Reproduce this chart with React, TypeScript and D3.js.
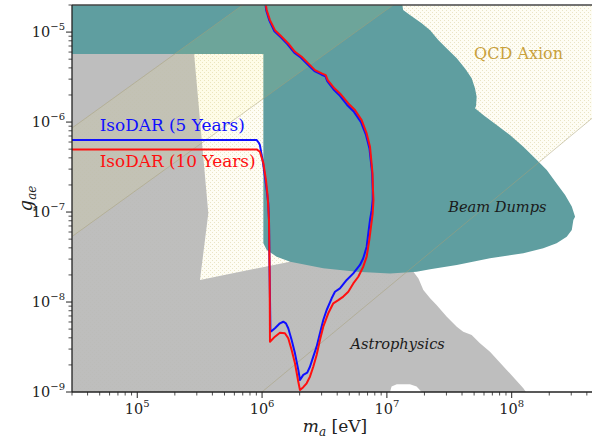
import React from 'react';
import * as d3 from 'd3';

// axis ranges
const massDomain = [3e4, 4.4e8];
const couplingDomain = [1e-9, 2e-5];

const xTickExponents = [5, 6, 7, 8];
const yTickExponents = [-9, -8, -7, -6, -5];

// IsoDAR sensitivity curves [m_a (eV), g_ae]
const isodar5Years = [
  [2.4e4, 6.31e-7], [9.06e5, 6.31e-7], [9.44e5, 5.85e-7], [9.61e5, 5.55e-7], [1.01e6, 3.78e-7],
  [1.055e6, 2.45e-7], [1.088e6, 1.76e-7], [1.121e6, 1.26e-7], [1.136e6, 8.15e-8], [1.15e6, 2.0e-8],
  [1.167e6, 4.68e-9], [1.193e6, 4.75e-9], [1.268e6, 5.11e-9], [1.39e6, 5.8e-9], [1.479e6, 6.04e-9],
  [1.553e6, 5.8e-9], [1.621e6, 5.11e-9], [1.726e6, 3.78e-9], [1.835e6, 2.69e-9], [1.951e6, 1.76e-9],
  [2.013e6, 1.36e-9], [2.139e6, 1.55e-9], [2.301e6, 1.64e-9], [2.419e6, 1.91e-9], [2.572e6, 2.47e-9],
  [2.736e6, 3.19e-9], [2.909e6, 4.49e-9], [3.093e6, 6.31e-9], [3.293e6, 8.15e-9], [3.611e6, 1.1e-8],
  [3.838e6, 1.3e-8], [4.207e6, 1.42e-8], [4.766e6, 1.76e-8], [5.383e6, 2.08e-8], [6.086e6, 2.58e-8],
  [6.467e6, 3.06e-8], [6.886e6, 4.12e-8], [7.096e6, 5.8e-8], [7.323e6, 8.15e-8], [7.556e6, 1.05e-7],
  [7.696e6, 1.36e-7], [7.696e6, 1.76e-7], [7.62e6, 2.71e-7], [7.25e6, 5.1e-7], [6.8e6, 7.2e-7],
  [6.2e6, 1.0e-6], [5.45e6, 1.3e-6], [4.8e6, 1.55e-6], [4.15e6, 2.0e-6], [3.74e6, 2.3e-6],
  [3.33e6, 2.85e-6], [3.22e6, 3.22e-6], [2.98e6, 3.38e-6], [2.63e6, 3.68e-6], [2.32e6, 4.37e-6],
  [2.05e6, 5.18e-6], [1.81e6, 5.9e-6], [1.6e6, 7.3e-6], [1.42e6, 8.7e-6], [1.25e6, 1.03e-5],
  [1.145e6, 1.34e-5], [1.08e6, 1.74e-5], [1.066e6, 2.0e-5], [1.057e6, 2.58e-5],
];

const isodar10Years = [
  [2.4e4, 4.97e-7], [9.06e5, 4.97e-7], [9.61e5, 4.68e-7], [1.024e6, 3.5e-7], [1.074e6, 2.27e-7],
  [1.109e6, 1.48e-7], [1.136e6, 8.15e-8], [1.15e6, 2.0e-8], [1.157e6, 3.62e-9], [1.268e6, 4.12e-9],
  [1.39e6, 4.56e-9], [1.524e6, 4.49e-9], [1.621e6, 3.95e-9], [1.726e6, 2.93e-9], [1.835e6, 2.08e-9],
  [1.951e6, 1.3e-9], [2.013e6, 1.05e-9], [2.139e6, 1.13e-9], [2.276e6, 1.25e-9], [2.419e6, 1.48e-9],
  [2.572e6, 1.91e-9], [2.736e6, 2.58e-9], [2.909e6, 3.78e-9], [3.093e6, 5.32e-9], [3.39e6, 7.49e-9],
  [3.722e6, 9.68e-9], [4.08e6, 1.05e-8], [4.477e6, 1.15e-8], [4.907e6, 1.3e-8], [5.383e6, 1.61e-8],
  [5.9e6, 1.91e-8], [6.467e6, 2.47e-8], [6.886e6, 3.19e-8], [7.228e6, 4.89e-8], [7.46e6, 6.87e-8],
  [7.696e6, 9.68e-8], [7.809e6, 1.36e-7], [7.741e6, 1.76e-7], [7.67e6, 2.71e-7], [7.323e6, 5.32e-7],
  [6.886e6, 7.48e-7], [6.277e6, 1.05e-6], [5.549e6, 1.36e-6], [4.907e6, 1.61e-6], [4.207e6, 2.08e-6],
  [3.795e6, 2.37e-6], [3.358e6, 2.93e-6], [3.237e6, 3.33e-6], [3.004e6, 3.48e-6], [2.655e6, 3.78e-6],
  [2.345e6, 4.49e-6], [2.075e6, 5.32e-6], [1.835e6, 6.04e-6], [1.621e6, 7.48e-6], [1.436e6, 8.87e-6],
  [1.268e6, 1.05e-5], [1.157e6, 1.36e-5], [1.088e6, 1.76e-5], [1.074e6, 2.0e-5], [1.064e6, 2.58e-5],
];

// beam dump exclusion
const beamDumps = [
  [2.4e4, 2.93e-5], [1.27e7, 2.93e-5], [1.35e7, 1.76e-5], [1.53e7, 1.55e-5], [1.9e7, 1.25e-5],
  [2.22e7, 1.05e-5], [2.58e7, 8.15e-6], [3.02e7, 6.59e-6], [3.63e7, 5.11e-6], [4.23e7, 3.95e-6],
  [4.78e7, 3.06e-6], [5.08e7, 2.37e-6], [5.24e7, 1.91e-6], [5.18e7, 1.51e-6], [5.08e7, 1.42e-6],
  [5.92e7, 1.2e-6], [7.58e7, 9.27e-7], [9.68e7, 7.17e-7], [1.24e8, 5.32e-7], [1.59e8, 3.78e-7],
  [1.91e8, 2.93e-7], [2.29e8, 2.08e-7], [2.68e8, 1.55e-7], [3.03e8, 1.15e-7], [3.22e8, 8.87e-8],
  [3.12e8, 8.15e-8], [3.03e8, 6.31e-8], [2.76e8, 5.32e-8], [2.29e8, 4.49e-8], [1.79e8, 3.95e-8],
  [1.24e8, 3.48e-8], [6.7e7, 3.06e-8], [3.63e7, 2.58e-8], [2.22e7, 2.31e-8], [1.73e7, 2.17e-8],
  [1.06e7, 2.08e-8], [5.73e6, 2.17e-8], [3.09e6, 2.37e-8], [1.68e6, 2.81e-8], [1.31e6, 3.19e-8],
  [1.09e6, 3.78e-8], [1.024e6, 4.49e-8], [1.024e6, 5.7e-6], [2.4e4, 5.7e-6],
];

// astrophysical exclusion and its two openings
const astrophysics = [
  [2.4e4, 5.85e-6], [1.2e7, 5.85e-6], [1.2e7, 3.0e-8], [1.63e7, 2.17e-8], [1.79e7, 1.83e-8],
  [1.96e7, 1.36e-8], [2.22e7, 1.1e-8], [2.5e7, 9.27e-9], [3.02e7, 6.87e-9], [3.63e7, 5.32e-9],
  [4.09e7, 4.68e-9], [4.78e7, 4.3e-9], [5.57e7, 3.48e-9], [6.7e7, 2.81e-9], [9.12e7, 1.76e-9],
  [1.24e8, 1.1e-9], [1.3e8, 1.0e-9], [1.35e8, 8e-10], [2.4e4, 8e-10],
];
const astroGapWindow = [
  [2.85e5, 5.85e-6], [1.157e6, 5.85e-6], [1.157e6, 4.3e-8], [1.675e6, 2.81e-8], [3.18e5, 1.76e-8],
  [3.71e5, 9.68e-8],
];
const astroGapBump = [
  [1.04e7, 9e-10], [1.06e7, 1.0e-9], [1.09e7, 1.15e-9], [1.2e7, 1.22e-9], [1.53e7, 1.22e-9],
  [1.73e7, 1.15e-9], [1.9e7, 1.0e-9], [1.93e7, 9e-10],
];

// QCD axion band edges
const qcdUpper = [[1e4, 2.86e-7], [1e7, 2.86e-4]];
const qcdMid = [[1e4, 1.78e-8], [1e9, 1.78e-3]];
const qcdLower = [[1e5, 7.1e-11], [1e10, 4.0e-5]];

const W = 592;
const H = 444;
const left = 72;
const right = 592;
const top = 5;
const bottom = 392;
const ink = '#222';
const serif = 'DejaVu Serif';

export default function App() {
  const x = d3.scaleLog().domain(massDomain).range([left, right]);
  const y = d3.scaleLog().domain(couplingDomain).range([bottom, top]);
  const line = d3.line<number[]>().x(d => x(d[0])).y(d => y(d[1]));
  const poly = (pts: number[][]) => line(pts) + 'Z';

  const bandFull = [...qcdUpper, [1e10, 2.86e-4], ...qcdLower.slice().reverse(), [1e4, 7.1e-11]];
  const bandInner = [...qcdUpper, ...qcdMid.slice().reverse()];

  const xMinor = x.ticks().filter(v => !xTickExponents.some(e => Math.abs(v - 10 ** e) < 1e-6 * v));
  const yMinor = y.ticks().filter(v => !yTickExponents.some(e => Math.abs(v - 10 ** e) < 1e-6 * v));

  return (
    <div style={{ position: 'fixed', left: 0, top: 0 }}>
      <svg width={W} height={H} style={{ display: 'block', background: '#fff' }} fontFamily={serif}>
        <defs>
          <clipPath id="plotClip">
            <rect x={left} y={top} width={right - left} height={bottom - top} />
          </clipPath>
          <pattern id="dots" width={4} height={4} patternUnits="userSpaceOnUse">
            <rect x={0} y={0} width={1} height={1} fill="#ddd3a5" />
            <rect x={2} y={2} width={1} height={1} fill="#ddd3a5" />
          </pattern>
        </defs>

        <g clipPath="url(#plotClip)">
          <path d={poly(bandFull)} fill="#fefdf4" />
          <path d={poly(bandFull)} fill="url(#dots)" opacity={0.6} />
          <path
            d={poly(astrophysics) + poly(astroGapWindow) + poly(astroGapBump)}
            fill="#b7b7b7"
            fillRule="evenodd"
            opacity={0.9}
          />
          <path d={poly(beamDumps)} fill="#5f9ea0" />
          <path d={poly(bandInner)} fill="#fff064" opacity={0.09} />
          {[qcdUpper, qcdMid, qcdLower].map((b, i) => (
            <path key={i} d={line(b) || ''} fill="none" stroke="#a8a078" strokeOpacity={0.5} strokeWidth={1} />
          ))}
          <path d={line(isodar5Years) || ''} fill="none" stroke="#1010ff" strokeWidth={2} strokeLinejoin="round" />
          <path d={line(isodar10Years) || ''} fill="none" stroke="#ff1010" strokeWidth={2} strokeLinejoin="round" />
        </g>

        <text x={x(5e4)} y={y(8e-7)} fontSize={16.9} fill="#1010ff">IsoDAR (5 Years)</text>
        <text x={x(5e4)} y={y(3.2e-7)} fontSize={16.9} fill="#ff1010">IsoDAR (10 Years)</text>
        <text x={x(5e7)} y={y(5e-6)} fontSize={16} fill="#c9a13c">QCD Axion</text>
        <text x={x(3.1e7)} y={y(1e-7)} fontSize={14.6} fontStyle="italic" fill="#1a1a1a">Beam Dumps</text>
        <text x={x(5.1e6)} y={y(3e-9)} fontSize={14.6} fontStyle="italic" fill="#1a1a1a">Astrophysics</text>

        {/* spines */}
        <line x1={left} x2={right} y1={top} y2={top} stroke="#444" strokeWidth={1.5} />
        <line x1={left} x2={left} y1={top} y2={bottom} stroke={ink} strokeWidth={1.3} />
        <line x1={left} x2={right} y1={bottom} y2={bottom} stroke={ink} strokeWidth={1.3} />

        {/* x ticks */}
        {xTickExponents.map(e => (
          <g key={'xt' + e}>
            <line x1={x(10 ** e)} x2={x(10 ** e)} y1={bottom} y2={bottom + 6} stroke={ink} strokeWidth={1} />
            <text x={x(10 ** e)} y={414} textAnchor="middle" fontSize={14.5} fill={ink}>
              10<tspan dy={-7} fontSize={10}>{e}</tspan>
            </text>
          </g>
        ))}
        {xMinor.map((v, i) => (
          <line key={'xm' + i} x1={x(v)} x2={x(v)} y1={bottom} y2={bottom + 3.5} stroke={ink} strokeWidth={0.8} />
        ))}

        {/* y ticks */}
        {yTickExponents.map(e => (
          <g key={'yt' + e}>
            <line x1={left - 6} x2={left} y1={y(10 ** e)} y2={y(10 ** e)} stroke={ink} strokeWidth={1} />
            <text x={65} y={y(10 ** e) + 5.3} textAnchor="end" fontSize={14.5} fill={ink}>
              10<tspan dy={-7} fontSize={10}>{'\u2212' + Math.abs(e)}</tspan>
            </text>
          </g>
        ))}
        {yMinor.map((v, i) => (
          <line key={'ym' + i} x1={left - 3.5} x2={left} y1={y(v)} y2={y(v)} stroke={ink} strokeWidth={0.8} />
        ))}

        {/* axis labels */}
        <text x={335} y={432} textAnchor="middle" fontSize={17} fill={ink}>
          <tspan fontStyle="italic">m</tspan>
          <tspan fontStyle="italic" fontSize={12} dy={4}>a</tspan>
          <tspan dy={-4}> [eV]</tspan>
        </text>
        <text transform={`translate(32,${(top + bottom) / 2}) rotate(-90)`} textAnchor="middle" fontSize={18} fill={ink}>
          <tspan fontStyle="italic">g</tspan>
          <tspan fontStyle="italic" fontSize={12} dy={4}>ae</tspan>
        </text>
      </svg>
    </div>
  );
}
